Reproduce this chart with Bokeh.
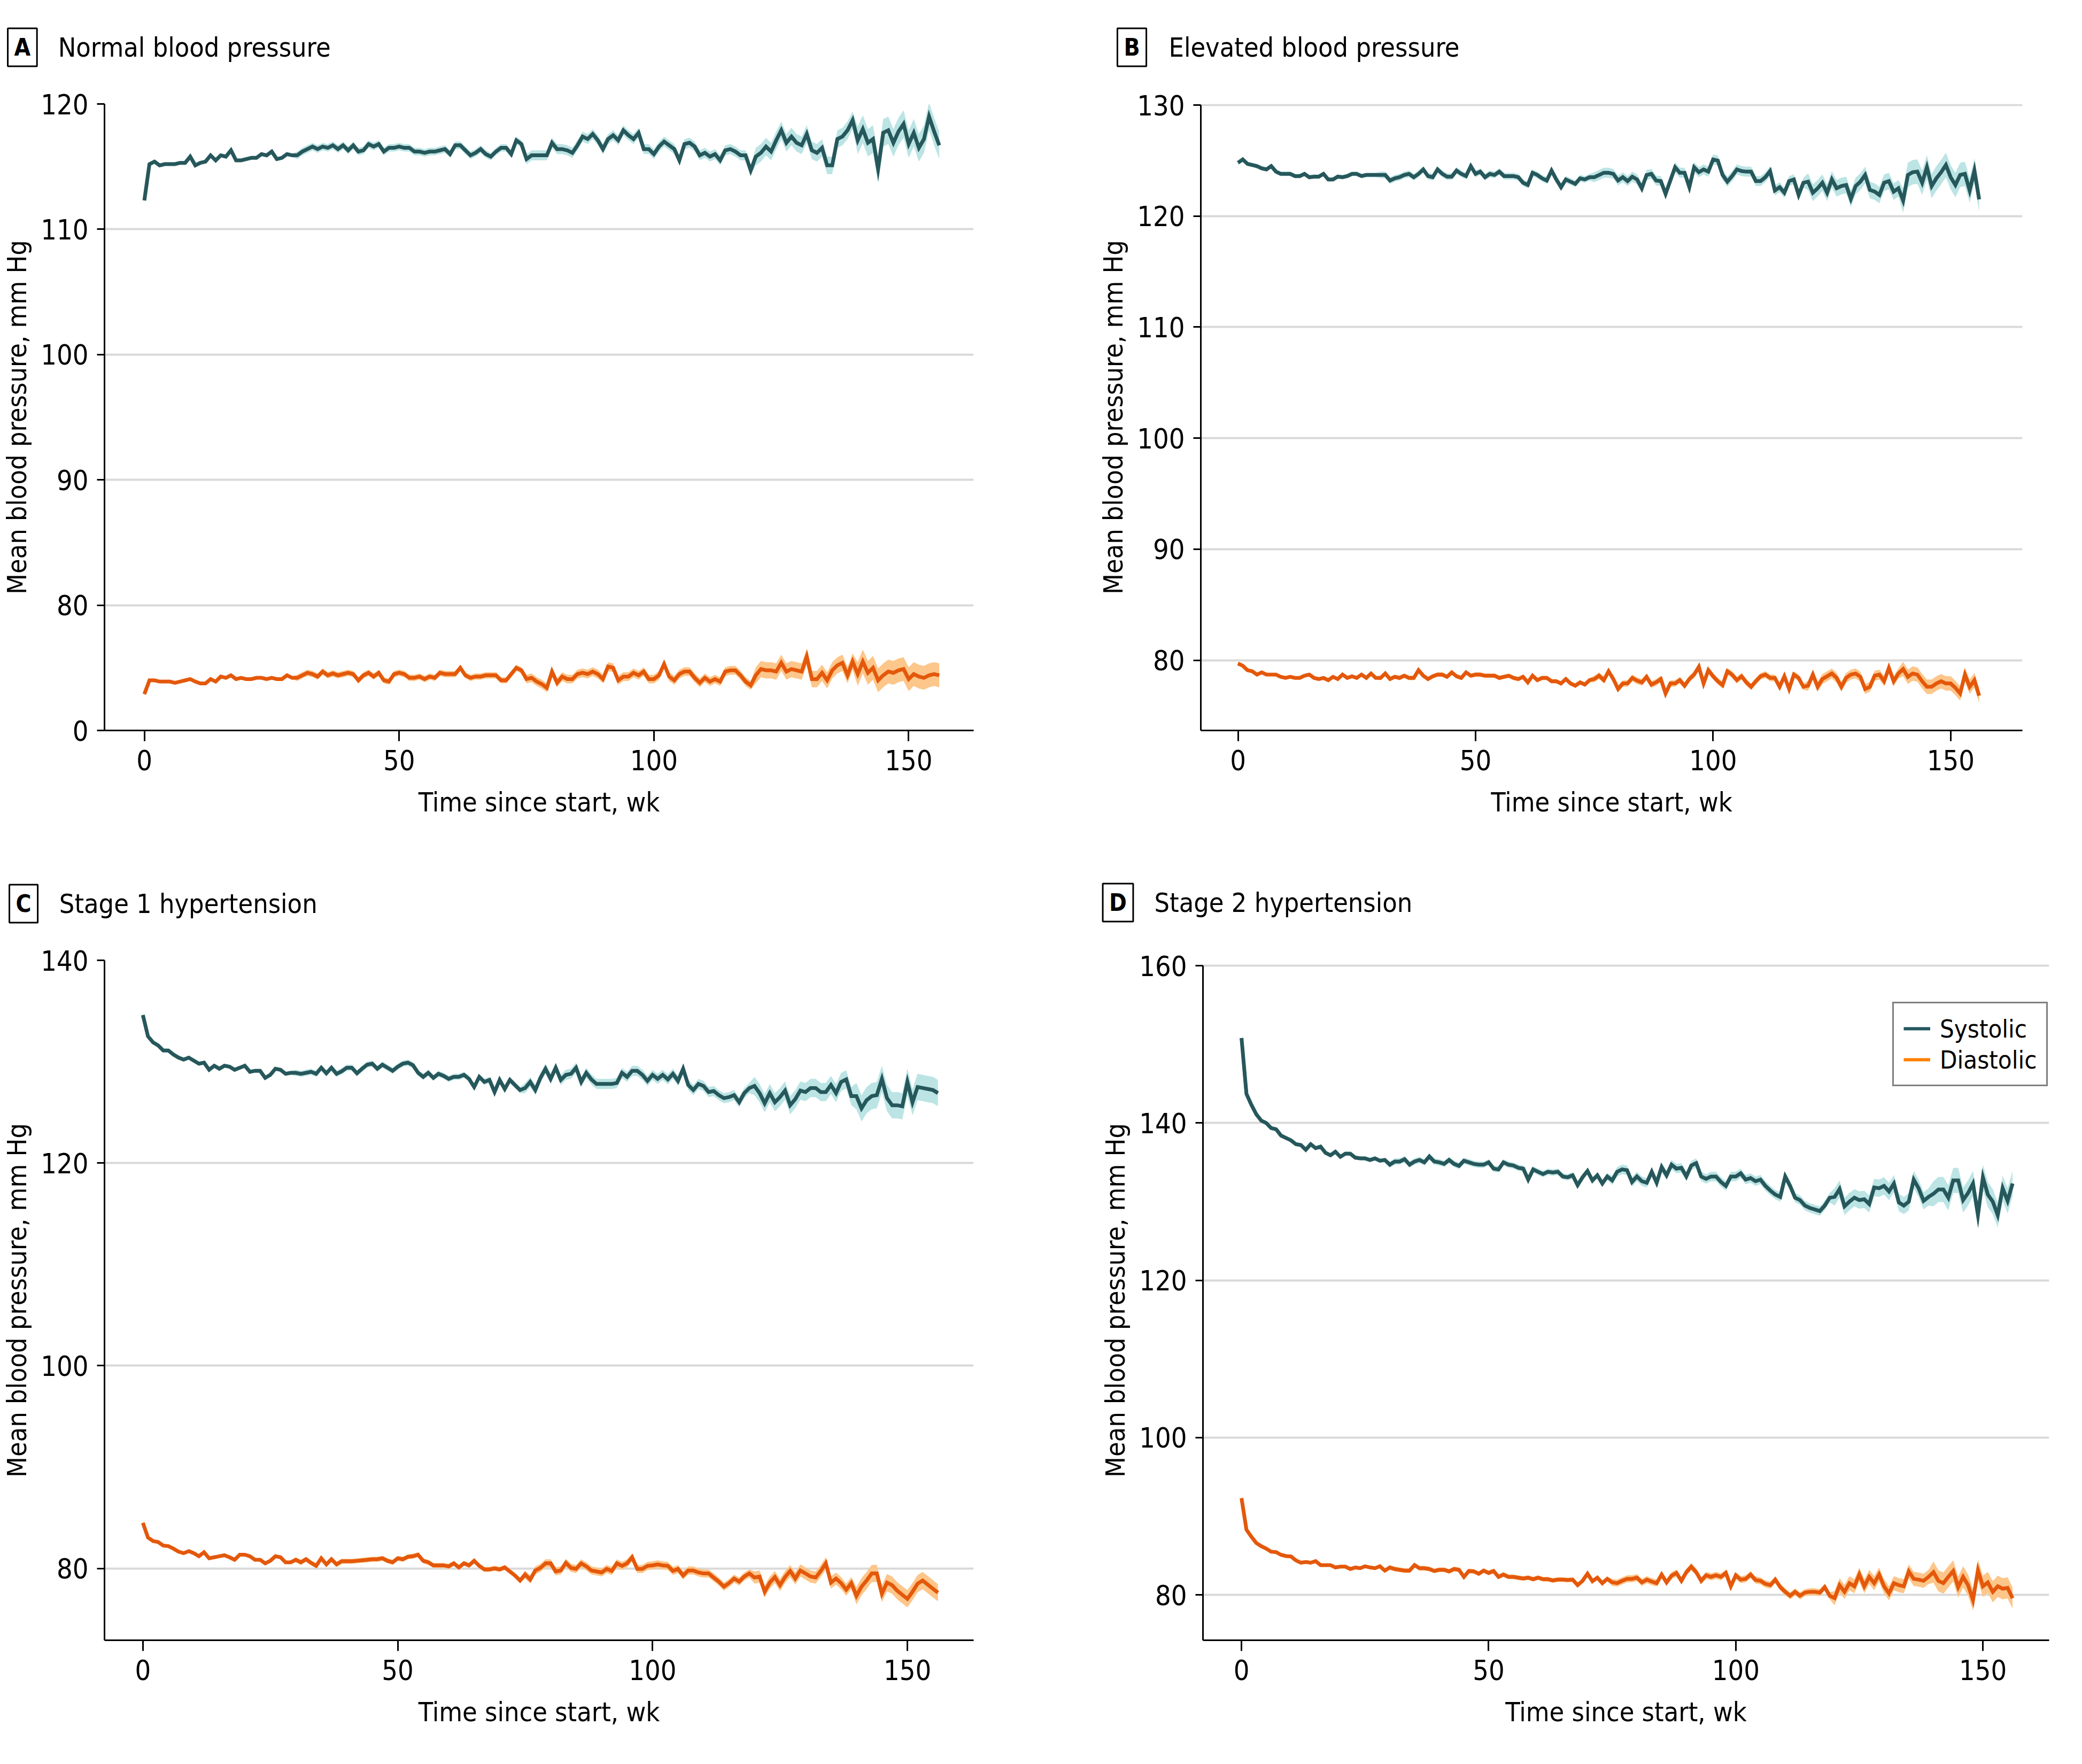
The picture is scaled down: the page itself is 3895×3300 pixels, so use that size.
from bokeh.plotting import figure
from bokeh.layouts import column, row
from bokeh.models import Range1d, FixedTicker, Label, Legend, LegendItem
from bokeh.embed import file_html
from bokeh.resources import INLINE

# ---------------- data ----------------
weeks = list(range(157))

A_sys = [112.3, 115.2, 115.4, 115.1, 115.2, 115.2, 115.2, 115.3, 115.3, 115.8,
         115.1, 115.3, 115.4, 115.9, 115.5, 115.9, 115.8, 116.3, 115.5, 115.5,
         115.6, 115.7, 115.7, 116.0, 115.9, 116.2, 115.6, 115.7, 116.0, 115.9,
         115.9, 116.2, 116.4, 116.6, 116.4, 116.6, 116.5, 116.7, 116.4, 116.7,
         116.3, 116.7, 116.2, 116.3, 116.8, 116.6, 116.8, 116.2, 116.5, 116.5,
         116.6, 116.5, 116.5, 116.2, 116.2, 116.1, 116.2, 116.2, 116.3, 116.4,
         116.0, 116.7, 116.7, 116.3, 115.9, 116.1, 116.4, 116.0, 115.8, 116.2,
         116.5, 116.5, 116.0, 117.1, 116.8, 115.6, 115.9, 115.9, 115.9, 115.9,
         116.9, 116.4, 116.4, 116.3, 116.1, 116.7, 117.4, 117.2, 117.6, 117.1,
         116.4, 117.2, 117.5, 117.1, 117.9, 117.5, 117.2, 117.7, 116.4, 116.4,
         116.0, 116.6, 117.0, 116.7, 116.4, 115.5, 116.8, 116.9, 116.6, 115.9,
         116.1, 115.8, 116.0, 115.5, 116.3, 116.4, 116.2, 115.9, 115.9, 114.7,
         115.8, 116.1, 116.6, 116.2, 117.1, 117.9, 116.9, 117.4, 116.9, 116.7,
         117.6, 116.3, 116.1, 116.5, 115.1, 115.1, 117.2, 117.4, 117.9, 118.7,
         117.1, 118.0, 116.9, 117.2, 114.8, 117.7, 117.9, 116.9, 117.8, 118.4,
         116.8, 117.7, 116.5, 117.2, 119.0, 117.8, 116.7]
A_dia = [72.9, 74.0, 74.0, 73.9, 73.9, 73.9, 73.8, 73.9, 74.0, 74.1,
         73.9, 73.75, 73.75, 74.1, 73.9, 74.3, 74.2, 74.4, 74.1, 74.2,
         74.1, 74.1, 74.2, 74.2, 74.1, 74.2, 74.1, 74.1, 74.4, 74.2,
         74.2, 74.4, 74.6, 74.5, 74.3, 74.7, 74.4, 74.55, 74.4, 74.5,
         74.6, 74.5, 74.0, 74.4, 74.6, 74.3, 74.6, 74.0, 73.9, 74.5,
         74.6, 74.5, 74.2, 74.2, 74.3, 74.1, 74.3, 74.2, 74.6, 74.5,
         74.5, 74.5, 75.0, 74.4, 74.2, 74.3, 74.3, 74.4, 74.4, 74.4,
         74.0, 74.0, 74.5, 75.0, 74.8, 74.1, 74.2, 73.9, 73.7, 73.4,
         74.7, 73.8, 74.3, 74.1, 74.1, 74.5, 74.6, 74.5, 74.7, 74.5,
         74.1, 75.1, 75.0, 74.0, 74.3, 74.3, 74.6, 74.4, 74.7, 74.1,
         74.1, 74.4, 75.3, 74.3, 74.0, 74.5, 74.7, 74.7, 74.2, 73.8,
         74.2, 73.9, 74.1, 73.9, 74.7, 74.8, 74.8, 74.4, 73.9, 73.6,
         74.4, 74.9, 74.8, 74.8, 74.7, 75.4, 74.7, 74.9, 74.8, 74.7,
         75.9, 74.1, 74.1, 74.6, 74.0, 74.8, 75.2, 75.4, 74.4, 75.5,
         74.5, 75.5, 74.6, 75.0, 74.0, 74.4, 74.7, 74.6, 74.8, 74.9,
         74.1, 74.5, 74.3, 74.2, 74.4, 74.5, 74.4]

B_sys = [124.8, 125.1, 124.7, 124.6, 124.5, 124.3, 124.2, 124.5, 124.0, 123.8,
         123.8, 123.8, 123.6, 123.6, 123.8, 123.5, 123.55, 123.55, 123.8, 123.3,
         123.3, 123.55, 123.5, 123.6, 123.8, 123.8, 123.6, 123.7, 123.7, 123.7,
         123.7, 123.7, 123.2, 123.4, 123.5, 123.7, 123.8, 123.5, 123.8, 124.2,
         123.6, 123.5, 124.2, 123.8, 123.55, 123.55, 124.1, 123.8, 123.6, 124.5,
         123.8, 124.0, 123.5, 123.8, 123.7, 124.0, 123.6, 123.6, 123.6, 123.5,
         123.0, 122.8, 123.9, 123.7, 123.4, 123.2, 124.1, 123.3, 122.6, 123.3,
         123.1, 122.9, 123.4, 123.3, 123.5, 123.5, 123.7, 123.9, 123.9, 123.8,
         123.2, 123.5, 123.15, 123.55, 123.3, 122.5, 123.7, 123.8, 123.2, 123.15,
         122.0, 123.2, 124.4, 123.9, 123.9, 122.6, 124.4, 123.95, 124.2, 124.0,
         125.1, 125.0, 123.7, 123.1, 123.6, 124.2, 124.05, 124.0, 124.0, 123.15,
         123.15, 123.5, 124.05, 122.3, 122.6, 122.1, 123.15, 123.3, 121.9, 123.0,
         123.1, 122.1, 122.5, 123.0, 122.1, 123.3, 122.5, 122.7, 122.8, 121.55,
         122.7, 123.1, 123.7, 122.35, 122.2, 121.9, 123.0, 123.15, 122.2, 122.5,
         121.4, 123.7, 123.95, 124.0, 123.0, 124.4, 122.7, 123.4, 123.95, 124.6,
         123.5, 122.8, 123.7, 123.8, 122.3, 124.1, 121.5]
B_dia = [79.7, 79.5, 79.1, 79.0, 78.7, 78.9, 78.7, 78.7, 78.7, 78.5,
         78.4, 78.5, 78.4, 78.4, 78.6, 78.7, 78.4, 78.3, 78.4, 78.2,
         78.5, 78.3, 78.7, 78.4, 78.55, 78.4, 78.7, 78.4, 78.8, 78.4,
         78.4, 78.8, 78.3, 78.5, 78.4, 78.6, 78.4, 78.4, 79.1, 78.6,
         78.3, 78.55, 78.7, 78.7, 78.5, 78.9, 78.55, 78.4, 78.9, 78.6,
         78.7, 78.7, 78.6, 78.6, 78.6, 78.4, 78.5, 78.6, 78.4, 78.3,
         78.5, 78.0, 78.6, 78.2, 78.4, 78.4, 78.1, 78.1, 77.9, 78.3,
         77.9, 77.7, 78.0, 77.8, 78.2, 78.3, 78.6, 78.2, 79.0, 78.3,
         77.4, 77.9, 77.9, 78.4, 78.15, 78.0, 78.5, 77.8, 78.0, 78.3,
         77.0, 77.9, 77.9, 78.2, 77.7, 78.3, 78.7, 79.4, 77.9, 79.1,
         78.55, 78.1, 77.75, 79.0, 78.7, 78.2, 78.55, 78.0, 77.6, 78.1,
         78.55, 78.7, 78.4, 78.4, 77.6, 78.55, 77.4, 78.7, 78.4, 77.6,
         77.7, 78.7, 77.6, 78.3, 78.55, 78.8, 78.4, 77.6, 78.4, 78.7,
         78.8, 78.5, 77.4, 77.6, 78.6, 78.7, 78.1, 79.3, 78.1, 78.8,
         79.2, 78.5, 78.8, 78.7, 78.1, 77.6, 77.6, 77.9, 78.1, 77.9,
         77.9, 77.5, 77.0, 78.7, 77.6, 78.2, 76.8]

C_sys = [134.6, 132.5, 131.9, 131.6, 131.1, 131.1, 130.7, 130.4, 130.2, 130.4,
         130.1, 129.8, 129.9, 129.2, 129.6, 129.3, 129.6, 129.5, 129.2, 129.4,
         129.6, 129.0, 129.1, 129.1, 128.4, 128.7, 129.3, 129.2, 128.8, 128.9,
         128.9, 128.8, 128.9, 129.0, 128.8, 129.4, 128.85, 129.4, 128.8, 129.05,
         129.4, 129.4, 128.85, 129.3, 129.7, 129.8, 129.3, 129.7, 129.4, 129.1,
         129.5, 129.8, 129.9, 129.65, 128.9, 128.5, 128.9, 128.4, 128.8, 128.6,
         128.3, 128.5, 128.5, 128.7, 128.3, 127.5, 128.5, 128.0, 128.2, 127.0,
         128.2, 127.3, 128.2, 127.7, 127.2, 127.4, 128.0, 127.2, 128.4, 129.3,
         128.3, 129.4, 128.2, 128.7, 128.8, 129.4, 128.0, 128.9, 128.25, 127.8,
         127.8, 127.8, 127.8, 127.9, 128.9, 128.5, 129.1, 129.1, 128.7, 128.1,
         128.7, 128.3, 128.7, 128.25, 128.8, 128.1, 129.3, 127.7, 127.2, 127.8,
         127.6, 127.0, 127.1, 126.7, 126.4, 126.5, 126.7, 126.0, 126.9, 127.4,
         127.6, 126.9, 125.9, 126.9, 126.0, 126.5, 127.15, 125.7, 126.3, 127.15,
         127.0, 127.4, 127.4, 127.0, 127.0, 127.7, 126.9, 128.0, 128.25, 126.6,
         126.6, 125.4, 126.2, 126.6, 126.7, 128.3, 126.4, 125.7, 125.7, 125.6,
         128.0, 126.0, 127.5, 127.4, 127.3, 127.2, 126.9]
C_dia = [84.5, 83.05, 82.7, 82.6, 82.25, 82.2, 81.95, 81.65, 81.5, 81.7,
         81.5, 81.2, 81.6, 81.0, 81.1, 81.2, 81.3, 81.1, 80.85, 81.35,
         81.35, 81.2, 80.85, 80.85, 80.5, 80.75, 81.2, 81.1, 80.6, 80.6,
         80.85, 80.6, 80.9, 80.55, 80.25, 81.0, 80.4, 80.9, 80.4, 80.7,
         80.7, 80.7, 80.75, 80.8, 80.85, 80.9, 80.9, 81.0, 80.75, 80.6,
         81.0, 80.9, 81.15, 81.2, 81.35, 80.75, 80.6, 80.3, 80.3, 80.3,
         80.2, 80.5, 80.1, 80.5, 80.3, 80.75, 80.25, 79.9, 79.9, 80.0,
         79.9, 80.1, 79.7, 79.3, 78.8, 79.4, 78.9, 79.8, 80.05, 80.5,
         80.5, 79.7, 79.8, 80.55, 80.05, 79.95, 80.5, 80.2, 79.8, 79.7,
         79.6, 79.95, 79.75, 80.5, 80.25, 80.5, 81.1, 79.95, 79.95, 80.25,
         80.3, 80.4, 80.3, 80.25, 79.75, 79.95, 79.3, 79.8, 79.8, 79.6,
         79.5, 79.5, 79.1, 78.7, 78.2, 78.55, 79.0, 78.7, 79.2, 79.5,
         79.1, 79.2, 77.7, 78.6, 79.15, 78.35, 79.15, 79.75, 79.0, 79.8,
         79.5, 79.2, 79.1, 79.75, 80.5, 78.6, 79.0, 78.55, 77.9, 78.55,
         77.3, 78.2, 78.8, 79.5, 79.5, 77.5, 78.6, 78.35, 77.8, 77.4,
         77.0, 77.7, 78.5, 78.8, 78.4, 78.0, 77.6]

D_sys = [150.8, 143.7, 142.3, 141.1, 140.3, 140.0, 139.35, 139.2, 138.4, 138.1,
         137.8, 137.3, 137.2, 136.6, 137.3, 136.8, 137.0, 136.2, 135.9, 136.35,
         135.7, 136.1, 136.1, 135.6, 135.5, 135.5, 135.3, 135.5, 135.2, 135.3,
         134.7, 135.1, 135.1, 135.4, 134.7, 135.1, 135.3, 135.0, 135.75, 135.1,
         135.0, 134.8, 135.3, 134.8, 134.55, 135.2, 135.0, 134.8, 134.7, 134.7,
         135.0, 134.2, 134.1, 135.0, 134.7, 134.6, 134.3, 134.2, 132.8, 134.1,
         133.8, 133.5, 133.8, 133.7, 133.8, 133.2, 133.1, 133.35, 132.1, 133.1,
         133.9, 132.7, 133.35, 132.3, 133.2, 132.7, 133.8, 134.1, 134.0, 132.5,
         133.2, 132.6, 132.4, 133.8, 132.4, 134.4, 133.35, 134.7, 134.2, 134.3,
         133.2, 134.6, 134.9, 133.2, 132.9, 133.2, 133.2, 132.5, 132.0, 133.2,
         133.2, 133.6, 132.8, 133.0, 132.6, 132.8, 132.0, 131.4, 130.9, 130.6,
         133.2, 132.0, 130.5, 130.2, 129.5, 129.2, 129.0, 128.8, 129.5, 130.5,
         130.6, 131.6, 129.4, 130.0, 130.5, 130.2, 130.3, 129.7, 131.8, 131.7,
         132.0, 131.3, 132.3, 129.9, 129.5, 130.0, 132.8, 131.7, 130.1, 130.6,
         131.0, 131.55, 131.55, 130.5, 132.7, 132.7, 130.2, 131.1, 132.3, 128.3,
         133.1, 130.9, 130.0, 128.3, 131.7, 130.1, 132.3]
D_dia = [92.3, 88.3, 87.4, 86.6, 86.2, 85.9, 85.5, 85.45, 85.1, 84.95,
         84.9, 84.4, 84.1, 84.2, 84.1, 84.3, 83.8, 83.8, 83.8, 83.5,
         83.6, 83.6, 83.3, 83.5, 83.4, 83.65, 83.5, 83.4, 83.65, 83.1,
         83.5, 83.3, 83.2, 83.1, 83.1, 83.8, 83.4, 83.4, 83.3, 83.05,
         83.2, 83.2, 83.0, 83.3, 83.2, 82.3, 83.05, 83.0, 82.7, 83.1,
         82.8, 83.05, 82.3, 82.6, 82.3, 82.3, 82.2, 82.1, 82.2, 82.0,
         82.2, 82.0, 82.0, 81.85, 81.95, 81.95, 81.9, 81.95, 81.25, 81.8,
         82.7, 81.75, 82.2, 81.5, 82.05, 81.6, 81.5, 81.8, 82.05, 82.05,
         82.2, 81.6, 81.95, 81.7, 81.5, 82.6, 81.6, 82.45, 82.8, 81.8,
         82.9, 83.6, 82.9, 81.8, 82.5, 82.3, 82.5, 82.3, 82.8, 81.1,
         82.5, 81.95, 82.05, 82.6, 81.9, 81.8, 81.4, 81.25, 81.95, 81.0,
         80.4, 79.9, 80.4, 79.9, 80.3, 80.4, 80.4, 80.3, 81.0, 79.9,
         79.6, 81.25, 80.4, 81.5, 81.1, 82.6, 81.1, 82.3, 81.5, 82.6,
         81.1, 80.2, 81.5, 81.25, 81.1, 83.0, 82.05, 81.95, 81.8, 82.3,
         82.9, 81.8, 81.5, 82.3, 83.05, 81.0, 82.3, 81.25, 79.35, 83.15,
         81.1, 81.6, 80.4, 81.1, 80.8, 80.9, 79.6]

# half-width of the shaded 95% CI band, read per period (wk 0-29, 30-74, 75-119, 120-139, 140-156)
A_sys_ci = [0.15] * 30 + [0.3] * 45 + [0.4] * 45 + [0.7] * 20 + [1.1] * 17
A_dia_ci = [0.12] * 30 + [0.25] * 45 + [0.35] * 45 + [0.65] * 20 + [0.95] * 17
B_sys_ci = [0.2] * 30 + [0.3] * 45 + [0.45] * 45 + [0.75] * 20 + [1.1] * 17
B_dia_ci = [0.12] * 30 + [0.2] * 45 + [0.3] * 45 + [0.45] * 20 + [0.65] * 17
C_sys_ci = [0.2] * 30 + [0.3] * 45 + [0.5] * 45 + [0.9] * 20 + [1.3] * 17
C_dia_ci = [0.15] * 30 + [0.25] * 45 + [0.4] * 45 + [0.6] * 20 + [0.85] * 17
D_sys_ci = [0.27] * 30 + [0.4] * 45 + [0.6] * 45 + [1.1] * 20 + [1.6] * 17
D_dia_ci = [0.15] * 30 + [0.3] * 45 + [0.45] * 45 + [0.9] * 20 + [1.35] * 17

for arr in (A_sys, A_dia, B_sys, B_dia, C_sys, C_dia, D_sys, D_dia,
            A_sys_ci, A_dia_ci, B_sys_ci, B_dia_ci, C_sys_ci, C_dia_ci, D_sys_ci, D_dia_ci):
    assert len(arr) == len(weeks), len(arr)

x_ticks = [0, 50, 100, 150]
A_yticks = [70, 80, 90, 100, 110, 120]
A_ylabels = {70: "0"}          # broken axis: bottom tick is labelled 0
B_yticks = [80, 90, 100, 110, 120, 130]
C_yticks = [80, 100, 120, 140]
D_yticks = [80, 100, 120, 140, 160]

panel_letters = ["A", "B", "C", "D"]
panel_titles = ["Normal blood pressure", "Elevated blood pressure",
                "Stage 1 hypertension", "Stage 2 hypertension"]
legend_labels = ["Systolic", "Diastolic"]

# ---------------- style ----------------
FONT = "Liberation Sans Narrow, DejaVu Sans Condensed, Roboto Condensed, Roboto, sans-serif"
SYS_LINE = "#26575b"
SYS_BAND = "#bce4e4"
DIA_LINE = "#e4580b"
DIA_BAND = "#fdc68a"
LEG_SYS = "#23555e"
LEG_DIA = "#ff8000"
GRID = "#d9d9d9"
TICK_FS = "52px"
AXIS_FS = "50px"
TITLE_FS = "50px"


def make_panel(letter, title, sys, sys_ci, dia, dia_ci, xr, yref, yticks, ylabels,
               fig_box, frame, box_c, title_x, legend=False):
    """yref = (value_a, page_y_a, value_b, page_y_b): where two ticks sit on the page."""
    pl, pt, w, h = fig_box
    L, R, T, B = frame
    va, pya, vb, pyb = yref
    ppu = (pyb - pya) / (va - vb)
    yr = (va - (B - pya) / ppu, va + (pya - T) / ppu)

    p = figure(width=w, height=h, x_range=Range1d(*xr), y_range=Range1d(*yr),
               output_backend="svg", toolbar_location=None,
               min_border_left=L - pl, min_border_right=pl + w - R,
               min_border_top=T - pt, min_border_bottom=pt + h - B)
    p.outline_line_color = None
    p.background_fill_color = "white"
    p.border_fill_color = "white"

    def dx(px):
        return xr[0] + (px - L) / (R - L) * (xr[1] - xr[0])

    def dy(py):
        return yr[0] + (B - py) / (B - T) * (yr[1] - yr[0])

    lo_s = [v - c for v, c in zip(sys, sys_ci)]
    hi_s = [v + c for v, c in zip(sys, sys_ci)]
    lo_d = [v - c for v, c in zip(dia, dia_ci)]
    hi_d = [v + c for v, c in zip(dia, dia_ci)]

    # legend swatch renderers (hidden underneath the real lines)
    rs = rd = None
    if legend:
        rs = p.line(weeks, sys, line_color=LEG_SYS, line_width=6)
        rd = p.line(weeks, dia, line_color=LEG_DIA, line_width=6)

    p.varea(x=weeks, y1=lo_s, y2=hi_s, fill_color=SYS_BAND)
    p.varea(x=weeks, y1=lo_d, y2=hi_d, fill_color=DIA_BAND)
    p.line(weeks, sys, line_color=SYS_LINE, line_width=7, line_join="miter")
    p.line(weeks, dia, line_color=DIA_LINE, line_width=7, line_join="miter")

    # axes
    p.xaxis.ticker = FixedTicker(ticks=x_ticks)
    p.yaxis.ticker = FixedTicker(ticks=yticks)
    p.yaxis.bounds = (yr[0], yticks[-1])
    if ylabels:
        p.yaxis.major_label_overrides = ylabels
    p.xaxis.axis_label = "Time since start, wk"
    p.yaxis.axis_label = "Mean blood pressure, mm Hg"
    for ax in (p.xaxis[0], p.yaxis[0]):
        ax.axis_line_color = "black"
        ax.axis_line_width = 3
        ax.major_tick_line_color = "black"
        ax.major_tick_line_width = 3
        ax.major_tick_in = 0
        ax.minor_tick_line_color = None
        ax.major_label_text_font = FONT
        ax.major_label_text_font_size = TICK_FS
        ax.major_label_text_color = "black"
        ax.axis_label_text_font = FONT
        ax.axis_label_text_font_size = AXIS_FS
        ax.axis_label_text_font_style = "normal"
        ax.axis_label_text_color = "black"
    p.xaxis.major_tick_out = 20
    p.yaxis.major_tick_out = 14
    p.xaxis.major_label_standoff = 16
    p.yaxis.major_label_standoff = 16
    p.xaxis.axis_label_standoff = 28
    p.yaxis.axis_label_standoff = 12

    p.xgrid.visible = False
    p.ygrid.grid_line_color = GRID
    p.ygrid.grid_line_width = 4

    # panel letter box (top side panel) and title (bottom side panel); both positioned
    # in data units so they land above the frame, and side panels are not clipped
    p.add_layout(Label(x=dx(box_c[0]), y=dy(box_c[1]), text=letter,
                       text_font=FONT, text_font_size="44px", text_font_style="bold",
                       text_color="black",
                       text_align="center", text_baseline="middle",
                       border_line_color="black", border_line_width=3,
                       background_fill_color="white", padding=(12, 10)), "above")
    p.add_layout(Label(x=dx(title_x), y=dy(box_c[1]), text=title,
                       text_font=FONT, text_font_size=TITLE_FS, text_color="black",
                       text_align="left", text_baseline="middle"), "below")

    if legend:
        lg = Legend(items=[LegendItem(label=legend_labels[0], renderers=[rs]),
                           LegendItem(label=legend_labels[1], renderers=[rd])],
                    location=(3540 - L, B - 2032))
        lg.label_text_font = FONT
        lg.label_text_font_size = "47px"
        lg.label_text_color = "black"
        lg.border_line_color = "black"
        lg.border_line_width = 3
        lg.background_fill_color = "white"
        lg.background_fill_alpha = 1.0
        lg.padding = 18
        lg.margin = 0
        lg.spacing = 0
        lg.label_standoff = 18
        lg.glyph_width = 50
        lg.glyph_height = 20
        lg.label_height = 58
        p.add_layout(lg)
    return p


# figure boxes in page pixels (left, top, width, height); frames as (left, right, top, bottom).
# Frames in one row share top and bottom edges; the y ranges are set from where the
# reference ticks sit on the page.
ROW1_T, ROW1_B = 194, 1366
ROW2_T, ROW2_B = 1796, 3068
pA = make_panel("A", panel_titles[0], A_sys, A_sys_ci, A_dia, A_dia_ci,
                (-7.82, 162.75), (120, 194, 70, 1366), A_yticks, A_ylabels,
                (0, 0, 2048, 1640), (191, 1821, ROW1_T, ROW1_B), (37, 88), 104)
pB = make_panel("B", panel_titles[1], B_sys, B_sys_ci, B_dia, B_dia_ci,
                (-7.82, 165.1), (130, 196, 80, 1234.5), B_yticks, None,
                (2048, 0, 1839, 1640), (2246, 3783, ROW1_T, ROW1_B), (2117, 88), 2186)
pC = make_panel("C", panel_titles[2], C_sys, C_sys_ci, C_dia, C_dia_ci,
                (-7.53, 163.0), (140, 1796, 80, 2933.6), C_yticks, None,
                (0, 1640, 2048, 1652), (189, 1821, ROW2_T, ROW2_B), (37, 1690), 104)
pD = make_panel("D", panel_titles[3], D_sys, D_sys_ci, D_dia, D_dia_ci,
                (-7.8, 163.4), (160, 1806, 80, 2983.3), D_yticks, None,
                (2048, 1640, 1839, 1652), (2250, 3833, ROW2_T, ROW2_B), (2091, 1688), 2159,
                legend=True)

layout = column(row(pA, pB), row(pC, pD))
open("out.html", "w").write(file_html(layout, INLINE))
